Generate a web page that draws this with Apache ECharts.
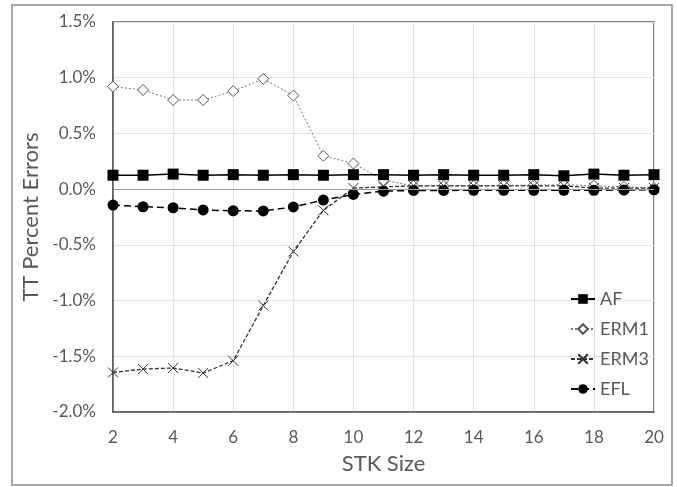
<!DOCTYPE html>
<html>
<head>
<meta charset="utf-8">
<script src="https://cdn.jsdelivr.net/npm/echarts@6/dist/echarts.min.js"></script>
<style>html,body{margin:0;padding:0;background:#fff;}#c{width:677px;height:487px;}</style>
</head>
<body>
<div id="c"></div>
<script>
var stkSize = [2,3,4,5,6,7,8,9,10,11,12,13,14,15,16,17,18,19,20];
var afValues   = [0.125,0.125,0.135,0.125,0.13,0.125,0.13,0.125,0.13,0.13,0.125,0.13,0.125,0.125,0.13,0.12,0.135,0.125,0.13];
var erm1Values = [0.92,0.89,0.80,0.80,0.88,0.99,0.84,0.30,0.23,0.08,0.03,0.03,0.03,0.035,0.035,0.04,0.03,0.02,0.01];
var erm3Values = [-1.645,-1.615,-1.605,-1.65,-1.54,-1.045,-0.56,-0.19,0.01,0.02,0.03,0.03,0.03,0.03,0.03,0.03,0.01,0.01,0.01];
var eflValues  = [-0.143,-0.158,-0.167,-0.187,-0.194,-0.196,-0.16,-0.098,-0.047,-0.018,-0.012,-0.012,-0.01,-0.01,-0.01,-0.01,-0.01,-0.008,-0.006];
var seriesNames = ['AF','ERM1','ERM3','EFL'];

function pairs(vals){ return stkSize.map(function(x,i){return [x, vals[i]];}); }
var FONT = 'Lato';
var chart = echarts.init(document.getElementById('c'), null, {renderer:'canvas'});
chart.setOption({
  animation:false,
  backgroundColor:'#fff',
  textStyle:{fontFamily:FONT},
  graphic:[{type:'rect', shape:{x:12,y:5,width:660,height:480}, style:{fill:'none', stroke:'#8c8c8c', lineWidth:1.5}, silent:true}],
  grid:{left:113, right:23, top:22, bottom:75, show:true, borderColor:'#595959', borderWidth:1.5, backgroundColor:'transparent'},
  legend:{
    orient:'vertical', left:565, top:285, itemGap:12, itemWidth:24, itemHeight:12,
    textStyle:{fontFamily:FONT, fontSize:18, color:'#595959'},
    data:seriesNames
  },
  xAxis:{
    type:'value', min:2, max:20, interval:2,
    name:'STK Size', nameLocation:'middle', nameGap:41,
    nameTextStyle:{fontFamily:FONT, fontSize:22, color:'#595959'},
    axisLine:{show:true, onZero:false, lineStyle:{color:'#595959', width:1.5}},
    axisTick:{show:false},
    axisLabel:{fontFamily:FONT, fontSize:17, color:'#595959', margin:17},
    splitLine:{show:true, lineStyle:{color:'#e3e3e3', width:1}}
  },
  yAxis:{
    type:'value', min:-2.0, max:1.5, interval:0.5,
    name:'TT Percent Errors', nameLocation:'middle', nameGap:60,
    nameTextStyle:{fontFamily:FONT, fontSize:22, color:'#595959'},
    axisLine:{show:true, lineStyle:{color:'#595959', width:1.5}},
    axisTick:{show:false},
    axisLabel:{fontFamily:FONT, fontSize:17, color:'#595959', margin:17,
      formatter:function(v){return v.toFixed(1)+'%';}},
    splitLine:{show:true, lineStyle:{color:'#e3e3e3', width:1}}
  },
  series:[
    {name:'AF', type:'line', data:pairs(afValues), symbol:'rect', symbolSize:11,
      itemStyle:{color:'#000'}, lineStyle:{color:'#000', width:1.5, type:'solid'}, z:5,
      markLine:{silent:true, symbol:'none', label:{show:false}, data:[{yAxis:0}],
        lineStyle:{color:'#9a9a9a', width:1.2, type:'solid'}}},
    {name:'ERM1', type:'line', data:pairs(erm1Values), symbol:'diamond', symbolSize:11,
      itemStyle:{color:'#fff', borderColor:'#555', borderWidth:1},
      lineStyle:{color:'#777', width:1, type:[2,2]}, z:3},
    {name:'ERM3', type:'line', data:pairs(erm3Values), symbol:'path://M0,0L10,10M10,0L0,10', symbolSize:10,
      itemStyle:{color:'#333', borderColor:'#333', borderWidth:1},
      lineStyle:{color:'#333', width:1.3, type:[4,2]}, z:4},
    {name:'EFL', type:'line', data:pairs(eflValues), symbol:'circle', symbolSize:11,
      itemStyle:{color:'#000'}, lineStyle:{color:'#000', width:1.5, type:[7,4]}, z:4}
  ]
});
</script>
</body>
</html>
